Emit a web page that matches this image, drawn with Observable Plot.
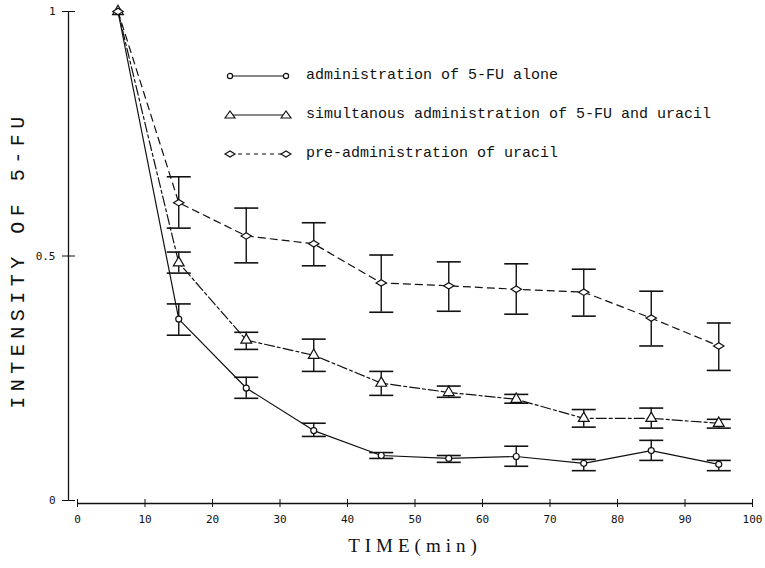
<!DOCTYPE html>
<html>
<head>
<meta charset="utf-8">
<script src="https://cdn.jsdelivr.net/npm/d3@7"></script>
<script src="https://cdn.jsdelivr.net/npm/@observablehq/plot@0.6"></script>
<style>
  body { margin: 0; background: #fff; }
  #wrap { position: relative; width: 765px; height: 568px; }
  .xlabel text { letter-spacing: 5px; }
  .ylabel text { letter-spacing: 5.5px; }
  #legend { position: absolute; left: 222px; top: 56px; font-family: "Liberation Mono", "DejaVu Sans Mono", monospace; font-size: 15px; color: #111; }
  #legend .row { display: flex; align-items: center; height: 39px; }
  #legend svg { margin-right: 14px; }
</style>
</head>
<body>
<div id="wrap"></div>
<script>
const times = [6, 15, 25, 35, 45, 55, 65, 75, 85, 95];

const aloneMean = [1, 0.371, 0.230, 0.143, 0.092, 0.086, 0.090, 0.076, 0.102, 0.074];
const aloneLo   = [null, 0.338, 0.209, 0.131, 0.086, 0.078, 0.070, 0.061, 0.082, 0.061];
const aloneHi   = [null, 0.402, 0.252, 0.158, 0.098, 0.092, 0.111, 0.084, 0.123, 0.082];

const simMean = [1, 0.486, 0.328, 0.297, 0.240, 0.221, 0.207, 0.168, 0.168, 0.158];
const simLo   = [null, 0.465, 0.309, 0.264, 0.215, 0.211, 0.199, 0.150, 0.148, 0.148];
const simHi   = [null, 0.508, 0.344, 0.330, 0.264, 0.234, 0.217, 0.186, 0.189, 0.166];

const preMean = [1, 0.609, 0.541, 0.525, 0.445, 0.439, 0.432, 0.426, 0.373, 0.316];
const preLo   = [null, 0.557, 0.486, 0.480, 0.385, 0.387, 0.381, 0.377, 0.316, 0.266];
const preHi   = [null, 0.662, 0.598, 0.568, 0.502, 0.488, 0.484, 0.473, 0.428, 0.363];

const seriesNames = [
  "administration of 5-FU alone",
  "simultanous administration of 5-FU and uracil",
  "pre-administration of uracil"
];
const xTicks = [0, 10, 20, 30, 40, 50, 60, 70, 80, 90, 100];
const yTicks = [0, 0.5, 1];
const xTitle = "TIME(min)";
const yTitle = "INTENSITY OF 5-FU";

function build(mean, lo, hi) {
  return times.map((t, i) => ({t, y: mean[i], lo: lo[i], hi: hi[i]}));
}
const A = build(aloneMean, aloneLo, aloneHi);
const B = build(simMean, simLo, simHi);
const C = build(preMean, preLo, preHi);
const withErr = d => d.lo != null;

const cap = {draw(ctx, size) { const r = Math.sqrt(size / Math.PI); ctx.moveTo(-r, 0); ctx.lineTo(r, 0); }};
const flatDiamond = {draw(ctx, size) { const r = Math.sqrt(size / Math.PI); ctx.moveTo(-r * 1.3, 0); ctx.lineTo(0, -r * 0.8); ctx.lineTo(r * 1.3, 0); ctx.lineTo(0, r * 0.8); ctx.closePath(); }};

const styles = [
  {data: A, dash: null, symbol: "circle", r: 3},
  {data: B, dash: "10,3,3,3", symbol: "triangle", r: 4},
  {data: C, dash: "7,5", symbol: flatDiamond, r: 4}
];

const marks = [
  Plot.ruleX([0], {dx: -9, stroke: "#111", strokeWidth: 1.3}),
  Plot.ruleY([0], {dy: 3, stroke: "#111", strokeWidth: 1.3}),
  Plot.axisY({ticks: yTicks, tickSize: 13, dx: -2, tickPadding: 7, tickFormat: d => String(d),
    fontSize: 11, fontFamily: "DejaVu Sans Mono, monospace", stroke: "#111", label: null}),
  Plot.axisX({ticks: xTicks, tickSize: 8, dy: -1, tickPadding: 8, tickFormat: d => String(d),
    fontSize: 11, fontFamily: "DejaVu Sans Mono, monospace", stroke: "#111", label: null}),
  Plot.text([xTitle], {frameAnchor: "bottom", dy: 51, fontSize: 19, fontFamily: "Liberation Serif, serif",
    fill: "#111", className: "xlabel"}),
  Plot.text([yTitle], {frameAnchor: "left", textAnchor: "middle", dx: -60, dy: 4, rotate: -90, fontSize: 20,
    fontFamily: "Liberation Mono, monospace", fill: "#111", className: "ylabel"})
];

for (const s of styles) {
  marks.push(Plot.line(s.data, {x: "t", y: "y", stroke: "#111", strokeWidth: 1.2, strokeDasharray: s.dash}));
  marks.push(Plot.ruleX(s.data.filter(withErr), {x: "t", y1: "lo", y2: "hi", stroke: "#111", strokeWidth: 1.4}));
  marks.push(Plot.dot(s.data.filter(withErr), {x: "t", y: "lo", symbol: cap, r: 12, stroke: "#111", strokeWidth: 1.6}));
  marks.push(Plot.dot(s.data.filter(withErr), {x: "t", y: "hi", symbol: cap, r: 12, stroke: "#111", strokeWidth: 1.6}));
  marks.push(Plot.dot(s.data, {x: "t", y: "y", symbol: s.symbol, r: s.r, stroke: "#111", fill: "white", strokeWidth: 1.2}));
}

const chart = Plot.plot({
  width: 765,
  height: 568,
  marginLeft: 77,
  marginRight: 13,
  marginTop: 11,
  marginBottom: 68,
  x: {domain: [0, 100]},
  y: {domain: [0, 1]},
  style: {background: "white", color: "#111"},
  marks
});
const wrap = document.getElementById("wrap");
wrap.appendChild(chart);

// legend overlay
const legend = document.createElement("div");
legend.id = "legend";
const legendDash = [null, null, "4,4"];
const legendSym = ["circle", "triangle", "diamond"];
seriesNames.forEach((name, i) => {
  const row = document.createElement("div");
  row.className = "row";
  const w = 70, h = 14;
  const drawSym = cx => {
    if (legendSym[i] === "circle") return `<circle cx="${cx}" cy="7" r="2.6" fill="white" stroke="#111" stroke-width="1.2"/>`;
    if (legendSym[i] === "triangle") return `<path d="M${cx - 5},10 L${cx},3 L${cx + 5},10 Z" fill="white" stroke="#111" stroke-width="1.2"/>`;
    return `<path d="M${cx - 5},7 L${cx},4 L${cx + 5},7 L${cx},10 Z" fill="white" stroke="#111" stroke-width="1.2"/>`;
  };
  const dash = legendDash[i] ? `stroke-dasharray="${legendDash[i]}"` : "";
  row.innerHTML = `<svg width="${w}" height="${h}"><line x1="8" y1="7" x2="${w - 6}" y2="7" stroke="#111" stroke-width="1.2" ${dash}/>${drawSym(8)}${drawSym(w - 6)}</svg><span>${name}</span>`;
  legend.appendChild(row);
});
wrap.appendChild(legend);
</script>
</body>
</html>
